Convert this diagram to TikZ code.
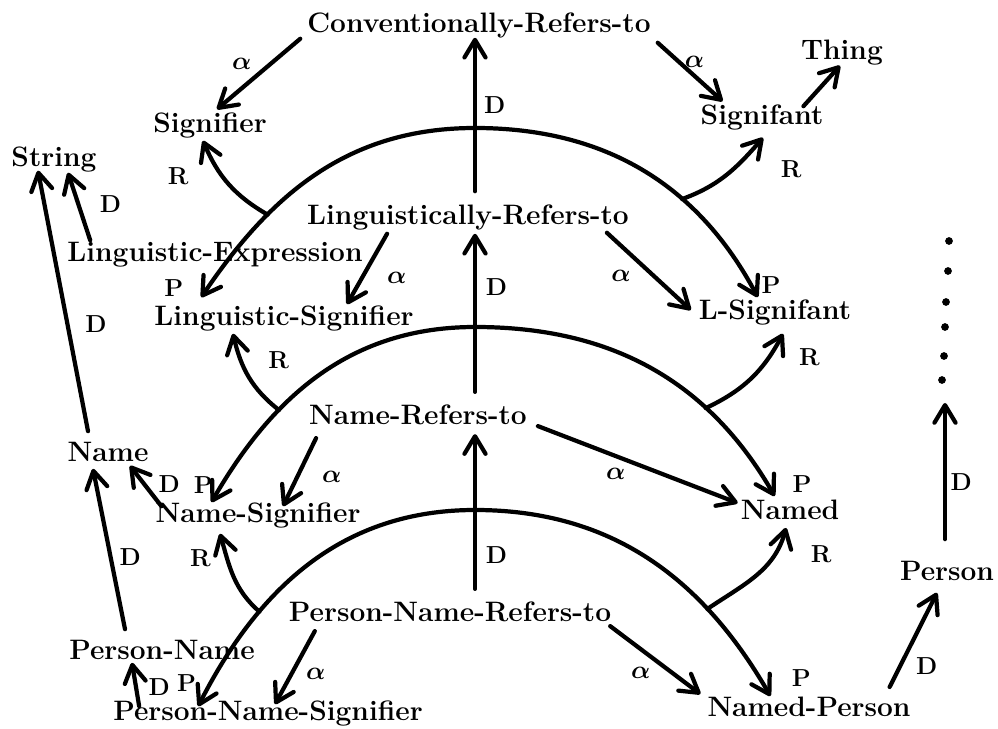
\documentclass[tikz,border=0pt]{standalone}
\usepackage{amsmath}
\usetikzlibrary{arrows.meta, positioning, calc}

\begin{document}
\begin{tikzpicture}[
  x=0.02cm, y=-0.02cm,
  concept/.style={font=\fontsize{16}{18}\selectfont\bfseries, inner sep=1pt},
  lbl/.style={font=\fontsize{14}{15}\selectfont\bfseries\boldmath, inner sep=1pt},
  arr/.style={-{Straight Barb[length=10pt, width=12pt, round]}, line width=2.4pt, line cap=round},
  twoway/.style={arr, {Straight Barb[length=10pt, width=12pt, round]}-{Straight Barb[length=10pt, width=12pt, round]}}
]
  \useasboundingbox (0,0) rectangle (998,729);

  \node[concept] (conv)        at (479,25)  {Conventionally-Refers-to};
  \node[concept] (thing)       at (842,53)  {Thing};
  \node[concept] (signifier)   at (210,125) {Signifier};
  \node[concept] (signifiant)  at (762,117) {Signifant};
  \node[concept] (string)      at (54,160)  {String};
  \node[concept] (lingref)     at (468,217) {Linguistically-Refers-to};
  \node[concept] (lingexpr)    at (215,255) {Linguistic-Expression};
  \node[concept] (lingsig)     at (284,318) {Linguistic-Signifier};
  \node[concept] (lsignifant)  at (775,312) {L-Signifant};
  \node[concept] (nameref)     at (418,415) {Name-Refers-to};
  \node[concept] (name)        at (108,452) {Name};
  \node[concept] (namesig)     at (258,515) {Name-Signifier};
  \node[concept] (named)       at (790,510) {Named};
  \node[concept] (person)      at (947,571) {Person};
  \node[concept] (pname)       at (162,650) {Person-Name};
  \node[concept] (pnameref)    at (450,612) {Person-Name-Refers-to};
  \node[concept] (pnamesig)    at (268,713) {Person-Name-Signifier};
  \node[concept] (namedperson) at (809,707) {Named-Person};

  \coordinate (spine) at (475,0);
  \coordinate (dottop) at (945,403);
  \coordinate (top1) at (475,128);
  \coordinate (top2) at (475,327);
  \coordinate (top3) at (475,510);

  % role arcs
  \draw[twoway] ($(lingsig.north west)+(49,-6)$) node[lbl, above left=-2pt and 8pt]{P}
    to[out=56, in=180] coordinate[pos=.3] (j1l) (top1)
    to[out=0, in=118] coordinate[pos=.65] (j1r) ($(lsignifant.north west)+(61,0)$) node[lbl, above right]{P};
  \draw[twoway] ($(namesig.north west)+(58,2)$) node[lbl, above left=3pt and -3pt]{P}
    to[out=60, in=180] coordinate[pos=.33] (j2l) (top2)
    to[out=0, in=120] coordinate[pos=.7] (j2r) ($(named.north west)+(36,-2)$) node[lbl, above right=0pt and 8pt]{P};
  \draw[twoway] ($(pnamesig.north west)+(87,8)$) node[lbl, above left=6pt and -1pt]{P}
    to[out=63, in=180] coordinate[pos=.3] (j3l) (top3)
    to[out=0, in=120] coordinate[pos=.72] (j3r) ($(namedperson.north west)+(65,1)$) node[lbl, above right=3pt and 10pt]{P};

  \draw[arr] (j1l) to[out=150, in=-67] ($(signifier.south)+(-7,1)$) node[lbl, below left=13pt and 6pt]{R};
  \draw[arr] (j1r) to[out=20, in=-131] ($(signifiant.south)+(1,6)$) node[lbl, below right=11pt and 8pt]{R};
  \draw[arr] (j2l) to[out=142, in=-77] ($(lingsig.south)+(-51,1)$) node[lbl, below right=8pt and 18pt]{R};
  \draw[arr] (j2r) to[out=25, in=-118] ($(lsignifant.south)+(8,7)$) node[lbl, below right=6pt and 7pt]{R};
  \draw[arr] (j3l) to[out=139, in=-74] ($(namesig.south)+(-38,4)$) node[lbl, below left=7pt and 3pt]{R};
  \draw[arr] (j3r) to[out=34, in=-105] ($(named.south)+(-4,6)$) node[lbl, below right=8pt and 12pt]{R};

  % differentiation
  \draw[arr] ($(lingref.north -| spine)+(0,-11)$) -- node[lbl, pos=.56, right=3pt]{D} ($(conv.south -| spine)+(0,-2)$);
  \draw[arr] ($(nameref.north -| spine)+(0,-11)$) -- node[lbl, pos=.66, right=4pt]{D} ($(lingref.south -| spine)+(0,2)$);
  \draw[arr] ($(pnameref.north -| spine)+(0,-11)$) -- node[lbl, pos=.22, right=4pt]{D} ($(nameref.south -| spine)+(0,7)$);

  \draw[arr] ($(lingexpr.north west)+(25,0)$) -- node[lbl, pos=.53, right=10pt]{D} ($(string.south)+(14,-2)$);
  \draw[arr] ($(name.north)+(-20,-9)$) -- node[lbl, pos=.41, right=8pt]{D} ($(string.south)+(-16,-4)$);
  \draw[arr] ($(pname.north)+(-37,-9)$) -- node[lbl, pos=.45, right=3pt]{D} ($(name.south)+(-15,5)$);
  \draw[arr] ($(namesig.north west)+(8,6)$) -- node[lbl, pos=.55, right=6pt]{D} ($(name.south)+(22,2)$);
  \draw[arr] ($(pnamesig.north west)+(28,8)$) -- node[lbl, pos=.45, right=5pt]{D} ($(pname.south)+(-30,1)$);
  \draw[arr] ($(namedperson.north east)+(-23,-8)$) -- node[lbl, pos=.22, right=7pt]{D} ($(person.south)+(-10,10)$);
  \draw[arr] ($(person.north)+(-2,-20)$) -- node[lbl, pos=.42, right=1pt]{D} (dottop);
  \draw[arr] ($(signifiant.north east)+(-22,4)$) -- ($(thing.south)+(-2,-2)$);

  % value restrictions
  \draw[arr] ($(conv.south west)+(-5,-1)$) -- node[lbl, pos=.35, left=9pt]{$\alpha$} ($(signifier.north)+(7,-1)$);
  \draw[arr] ($(conv.south east)+(5,3)$) -- node[lbl, pos=.33, right=1pt]{$\alpha$} ($(signifiant.north west)+(24,-1)$);
  \draw[arr] ($(lingref.south west)+(82,2)$) -- node[lbl, pos=.62, right=12pt]{$\alpha$} ($(lingsig.north)+(63,1)$);
  \draw[arr] ($(lingref.south east)+(-24,1)$) -- node[lbl, pos=.56, left=11pt]{$\alpha$} ($(lsignifant.west)+(-6,-2)$);
  \draw[arr] ($(nameref.south west)+(9,11)$) -- node[lbl, pos=.57, right=12pt]{$\alpha$} ($(namesig.north)+(25,6)$);
  \draw[arr] ($(nameref.south east)+(9,-1)$) -- node[lbl, pos=.39, below=5pt]{$\alpha$} ($(named.west)+(-1,-7)$);
  \draw[arr] ($(pnameref.south west)+(28,7)$) -- node[lbl, pos=.58, right=6pt]{$\alpha$} ($(pnamesig.north)+(7,6)$);
  \draw[arr] ($(pnameref.south east)+(-3,2)$) -- node[lbl, pos=.34, below=8pt]{$\alpha$} ($(namedperson.north west)+(-5,-1)$);

  \foreach \p in {(949,241),(948,271),(946,302),(945,327),(944,356),(942,380)}
    \fill \p circle (2.2pt);
\end{tikzpicture}
\end{document}
